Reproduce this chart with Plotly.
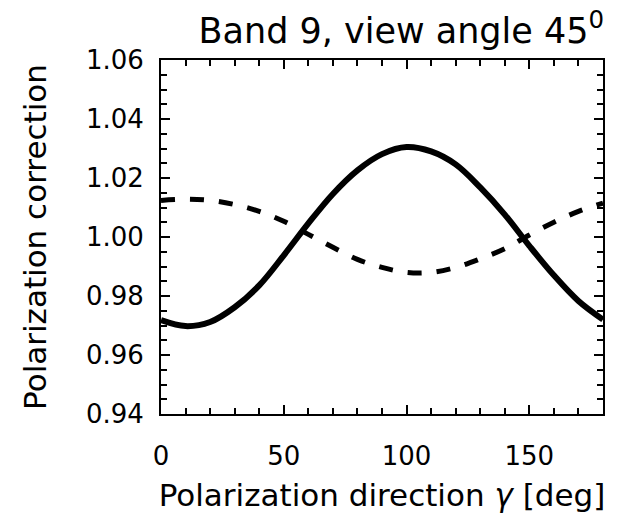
import plotly.graph_objects as go

gamma = [0, 10, 20, 30, 40, 50, 60, 70, 80, 90, 100, 110, 120, 130, 140, 150, 160, 170, 180]
solid_vals = [0.9718, 0.9698, 0.9712, 0.9762, 0.9836, 0.9938, 1.0046, 1.0146, 1.0226, 1.0281, 1.0305, 1.0290, 1.0246, 1.0168, 1.0076, 0.9970, 0.9870, 0.9783, 0.9720]
dashed_vals = [1.0124, 1.0128, 1.0124, 1.0110, 1.0087, 1.0053, 1.0009, 0.9965, 0.9924, 0.9897, 0.9880, 0.9880, 0.9897, 0.9926, 0.9960, 1.0007, 1.0050, 1.0087, 1.0115]
x_ticks = [0, 50, 100, 150]
y_ticks = [0.94, 0.96, 0.98, 1.00, 1.02, 1.04, 1.06]
y_tick_text = ["0.94", "0.96", "0.98", "1.00", "1.02", "1.04", "1.06"]

FONT = "DejaVu Sans"

fig = go.Figure()
fig.add_trace(go.Scatter(x=gamma, y=solid_vals, mode="lines", line=dict(color="black", width=6, shape="spline")))
fig.add_trace(go.Scatter(x=gamma, y=dashed_vals, mode="lines", line=dict(color="black", width=5, shape="spline", dash="14px,15px")))

axis_common = dict(
    showgrid=False, zeroline=False, showline=True, linecolor="black", linewidth=2,
    mirror="allticks", ticks="inside", tickcolor="black", tickwidth=2,
    tickfont=dict(family=FONT, size=26, color="black"),
)
fig.update_xaxes(range=[0, 180], tickvals=x_ticks, ticklen=9,
                 minor=dict(dtick=10, ticks="inside", ticklen=6, tickcolor="black", tickwidth=2),
                 ticklabelstandoff=18,
                 title=dict(text="Polarization direction <i>γ</i> [deg]", font=dict(family=FONT, size=31, color="black"), standoff=14),
                 **axis_common)
fig.update_yaxes(range=[0.94, 1.06], tickvals=y_ticks, ticktext=y_tick_text, ticklen=9,
                 minor=dict(dtick=0.005, ticks="inside", ticklen=6, tickcolor="black", tickwidth=2),
                 ticklabelstandoff=10,
                 title=dict(text="Polarization correction", font=dict(family=FONT, size=31, color="black"), standoff=30),
                 **axis_common)
fig.update_layout(
    width=637, height=519,
    margin=dict(l=161, r=34, t=60, b=101),
    paper_bgcolor="white", plot_bgcolor="white",
    showlegend=False,
    title=dict(text="Band 9, view angle 45<sup>0</sup>", font=dict(family=FONT, size=35, color="black"),
               x=0.63, xanchor="center", y=0.965, yanchor="top"),
)
fig.write_html("out.html")
